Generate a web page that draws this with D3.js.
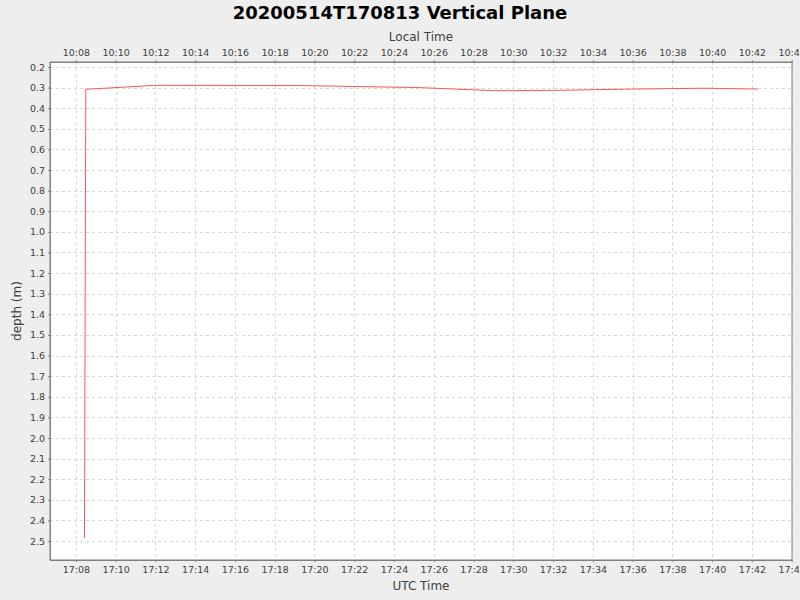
<!DOCTYPE html>
<html lang="en">
  <head>
    <meta charset="UTF-8" />
    <title>20200514T170813 Vertical Plane</title>
    <script src="https://d3js.org/d3.v7.min.js"></script>
    <style>
      body { margin: 0; background: #eeeeee; }
      text { font-family: "DejaVu Sans", sans-serif; }
    </style>
  </head>
  <body>
    <svg width="800" height="600"></svg>

    <script>
      // depth samples (UTC time, metres)
      const utcTimes = [
        "2020-05-14T17:08:26Z", "2020-05-14T17:08:30Z", "2020-05-14T17:12:02Z",
        "2020-05-14T17:19:17Z", "2020-05-14T17:25:18Z", "2020-05-14T17:29:04Z",
        "2020-05-14T17:32:20Z", "2020-05-14T17:35:54Z", "2020-05-14T17:39:36Z",
        "2020-05-14T17:42:18Z"
      ];
      const depths = [2.485, 0.308, 0.289, 0.290, 0.300, 0.315, 0.313, 0.307, 0.303, 0.307];

      const depthTicks = d3.range(2, 26).map((d) => d / 10); // 0.2 .. 2.5
      const localOffsetHours = -7;

      const svg = d3.select("svg");
      const plot = { left: 50, right: 792, top: 62, bottom: 560 };

      const xDomain = [new Date("2020-05-14T17:06:42Z"), new Date("2020-05-14T17:44:01Z")];
      const x = d3.scaleUtc().domain(xDomain).range([plot.left, plot.right]);
      const xLocal = d3
        .scaleUtc()
        .domain(xDomain.map((d) => new Date(+d + localOffsetHours * 3600e3)))
        .range([plot.left, plot.right]);
      const y = d3.scaleLinear().domain([0.1757, 2.592]).range([plot.top, plot.bottom]);

      const data = utcTimes.map((t, i) => ({ t: new Date(t), d: depths[i] }));

      // plot background
      svg
        .append("rect")
        .attr("x", plot.left)
        .attr("y", plot.top)
        .attr("width", plot.right - plot.left)
        .attr("height", plot.bottom - plot.top)
        .attr("fill", "#ffffff");

      const xTicks = d3.utcMinute.every(2).range(new Date("2020-05-14T17:08:00Z"), new Date("2020-05-14T17:44:30Z"));
      const fmt = d3.utcFormat("%H:%M");

      // gridlines
      const grid = svg
        .append("g")
        .attr("stroke", "#d8d8d8")
        .attr("stroke-width", 1)
        .attr("stroke-dasharray", "3,3")
        .attr("shape-rendering", "crispEdges");
      grid
        .selectAll(".vg")
        .data(xTicks)
        .join("line")
        .attr("x1", (d) => Math.round(x(d)) + 0.5)
        .attr("x2", (d) => Math.round(x(d)) + 0.5)
        .attr("y1", plot.top)
        .attr("y2", plot.bottom);
      grid
        .selectAll(".hg")
        .data(depthTicks)
        .join("line")
        .attr("x1", plot.left)
        .attr("x2", plot.right)
        .attr("y1", (d) => Math.round(y(d)) + 0.5)
        .attr("y2", (d) => Math.round(y(d)) + 0.5);

      // the depth line
      const line = d3
        .line()
        .x((d) => x(d.t))
        .y((d) => y(d.d));
      svg
        .append("path")
        .datum(data)
        .attr("d", line)
        .attr("fill", "none")
        .attr("stroke", "#ff5555")
        .attr("stroke-width", 1);

      // plot outline
      svg
        .append("rect")
        .attr("x", plot.left)
        .attr("y", plot.top)
        .attr("width", plot.right - plot.left)
        .attr("height", plot.bottom - plot.top)
        .attr("fill", "none")
        .attr("stroke", "#808080")
        .attr("stroke-width", 1);

      function styleAxis(g) {
        g.select(".domain").attr("stroke", "#808080");
        g.selectAll(".tick line").attr("stroke", "#808080");
        g.selectAll(".tick text")
          .attr("fill", "#404040")
          .attr("font-size", 9.5)
          .attr("font-family", "DejaVu Sans, sans-serif");
      }

      // bottom axis: UTC
      svg
        .append("g")
        .attr("transform", `translate(0,${plot.bottom})`)
        .call(d3.axisBottom(x).tickValues(xTicks).tickFormat(fmt).tickSize(2).tickPadding(4).tickSizeOuter(0))
        .call(styleAxis);

      // top axis: local time
      const localTicks = xTicks.map((d) => new Date(+d + localOffsetHours * 3600e3));
      svg
        .append("g")
        .attr("transform", `translate(0,${plot.top})`)
        .call(d3.axisTop(xLocal).tickValues(localTicks).tickFormat(fmt).tickSize(2).tickPadding(4).tickSizeOuter(0))
        .call(styleAxis);

      // left axis: depth
      svg
        .append("g")
        .attr("transform", `translate(${plot.left},0)`)
        .call(d3.axisLeft(y).tickValues(depthTicks).tickFormat(d3.format(".1f")).tickSize(2).tickPadding(3).tickSizeOuter(0))
        .call(styleAxis);

      // titles
      svg
        .append("text")
        .attr("x", 400)
        .attr("y", 19)
        .attr("text-anchor", "middle")
        .attr("font-size", 18)
        .attr("font-weight", "bold")
        .attr("fill", "#000")
        .text("20200514T170813 Vertical Plane");

      svg
        .append("text")
        .attr("x", (plot.left + plot.right) / 2)
        .attr("y", 41)
        .attr("text-anchor", "middle")
        .attr("font-size", 12)
        .attr("fill", "#404040")
        .text("Local Time");

      svg
        .append("text")
        .attr("x", (plot.left + plot.right) / 2)
        .attr("y", 590)
        .attr("text-anchor", "middle")
        .attr("font-size", 12)
        .attr("fill", "#404040")
        .text("UTC Time");

      svg
        .append("text")
        .attr("transform", `translate(21,${(plot.top + plot.bottom) / 2}) rotate(-90)`)
        .attr("text-anchor", "middle")
        .attr("font-size", 12)
        .attr("fill", "#404040")
        .text("depth (m)");
    </script>
  </body>
</html>
